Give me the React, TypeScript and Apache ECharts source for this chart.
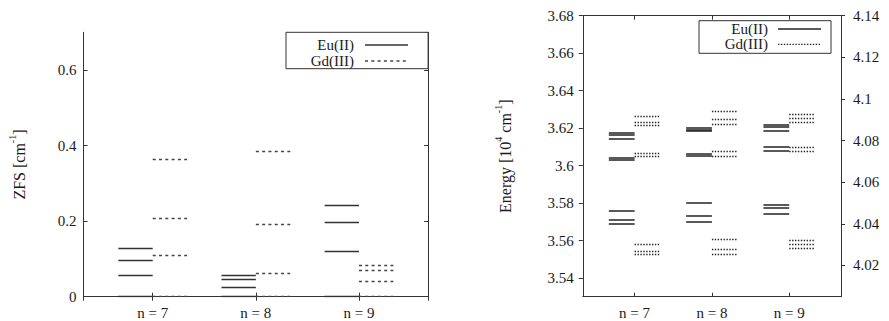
import React, { useEffect, useRef } from "react";
import * as echarts from "echarts";

// ---- data ----
const categories = [7, 8, 9];
const xLabels = ["n = 7", "n = 8", "n = 9"];
const seriesNames = ["Eu(II)", "Gd(III)"];

// ZFS levels [cm^-1] (left panel)
const zfsEu = [
  [0, 0.057, 0.096, 0.128],
  [0, 0.026, 0.045, 0.0555],
  [0, 0.121, 0.198, 0.2415],
];
const zfsGd = [
  [0, 0.111, 0.207, 0.365],
  [0, 0.0634, 0.192, 0.385],
  [0, 0.042, 0.0705, 0.0837],
];

// Energy levels [10^4 cm^-1] (right panel); Eu on left axis, Gd on right axis
const energyEu = [
  [3.5689, 3.5712, 3.576, 3.6031, 3.6041, 3.6142, 3.6163, 3.6174],
  [3.5702, 3.5732, 3.5801, 3.605, 3.6061, 3.6185, 3.6193, 3.6201],
  [3.5743, 3.5773, 3.5792, 3.6078, 3.6103, 3.6188, 3.6206, 3.622],
];
const energyGd = [
  [4.0254, 4.027, 4.0302, 4.0723, 4.0739, 4.0873, 4.0887, 4.0916],
  [4.0253, 4.0278, 4.0325, 4.0726, 4.0747, 4.0877, 4.0902, 4.0939],
  [4.0284, 4.0304, 4.032, 4.0749, 4.0767, 4.089, 4.0908, 4.0927],
];

const xRange = [6.33, 9.67];
const zfsRange = [0, 0.7];
const energyEuRange = [3.53, 3.68];
const energyGdRange = [4.005, 4.14];
const levelWidth = 1 / 3;

const FONT = "Liberation Serif";
const INK = "#1a1a1a";

const labRich = { a: { fontFamily: FONT, fontSize: 15, color: INK } };

function fmt(v: number) {
  return `{a|${parseFloat(Number(v).toFixed(3))}}`;
}

function levels(vals: number[][], side: "left" | "right") {
  const out: any[] = [];
  vals.forEach((arr, i) => {
    const n = categories[i];
    const x0 = side === "left" ? n - levelWidth : n;
    const x1 = side === "left" ? n : n + levelWidth;
    arr.forEach((v) => out.push({ coords: [[x0, v], [x1, v]] }));
  });
  return out;
}

const axisLine = { show: true, lineStyle: { color: "#333", width: 1 } };
const labelStyle = { color: INK, fontFamily: FONT, fontSize: 15, rich: labRich };
const titleRich = {
  t: { fontFamily: FONT, fontSize: 16, color: INK, lineHeight: 20, verticalAlign: "bottom" },
  s: { fontFamily: FONT, fontSize: 10, color: INK, lineHeight: 10, verticalAlign: "top" },
};

function xAxes(gridIndex: number) {
  const base = {
    type: "value",
    gridIndex,
    min: xRange[0],
    max: xRange[1],
    splitNumber: 3,
    splitLine: { show: false },
    axisLine,
  };
  return [
    {
      ...base,
      position: "bottom",
      axisTick: { show: true, inside: true, length: 4, lineStyle: { color: "#333" } },
      axisLabel: {
        ...labelStyle,
        margin: 9,
        showMinLabel: false,
        showMaxLabel: false,
        formatter: (v: number) => {
          const i = categories.findIndex((c) => Math.abs(c - v) < 1e-6);
          return i >= 0 ? `{a|${xLabels[i]}}` : "";
        },
      },
    },
    {
      ...base,
      position: "top",
      axisTick: { show: true, inside: true, length: 4, lineStyle: { color: "#333" } },
      axisLabel: { show: false },
    },
  ];
}

function legendText(x: number, y: number, text: string) {
  return {
    type: "text",
    x,
    y,
    z: 11,
    style: {
      text: `{a|${text}}`,
      rich: labRich,
      align: "right",
      verticalAlign: "middle",
      fontFamily: FONT,
      fontSize: 15,
      fill: INK,
    },
  };
}

export default function App() {
  const ref = useRef<HTMLDivElement>(null);
  useEffect(() => {
    if (!ref.current) return;
    const chart = echarts.init(ref.current, null, { renderer: "svg" });
    const option: any = {
      animation: false,
      backgroundColor: "#fff",
      textStyle: { fontFamily: FONT },
      grid: [
        { left: 83.6, top: 32.3, width: 344.5, height: 264.4 },
        { left: 582.8, top: 15.7, width: 258.2, height: 281 },
      ],
      xAxis: [...xAxes(0), ...xAxes(1)],
      yAxis: [
        {
          type: "value",
          gridIndex: 0,
          position: "left",
          min: zfsRange[0],
          max: zfsRange[1],
          interval: 0.2,
          splitLine: { show: false },
          axisLine,
          axisTick: { show: true, inside: true, length: 4, lineStyle: { color: "#333" } },
          axisLabel: { ...labelStyle, margin: 7, showMaxLabel: false, formatter: fmt },
          name: "{t|ZFS [cm}{s|-1}{t|]}",
          nameLocation: "middle",
          nameRotate: 90,
          nameGap: 56,
          nameTextStyle: { fontFamily: FONT, rich: titleRich },
        },
        {
          type: "value",
          gridIndex: 0,
          position: "right",
          min: zfsRange[0],
          max: zfsRange[1],
          interval: 0.2,
          splitLine: { show: false },
          axisLine,
          axisTick: { show: true, inside: true, length: 4, lineStyle: { color: "#333" } },
          axisLabel: { show: false },
        },
        {
          type: "value",
          gridIndex: 1,
          position: "left",
          min: energyEuRange[0],
          max: energyEuRange[1],
          splitNumber: 7,
          splitLine: { show: false },
          axisLine,
          axisTick: { show: true, inside: false, length: 4, lineStyle: { color: "#333" } },
          axisLabel: { ...labelStyle, margin: 9, showMinLabel: false, formatter: fmt },
          name: "{t|Energy [10}{s|4}{t| cm}{s|-1}{t|]}",
          nameLocation: "middle",
          nameRotate: 90,
          nameGap: 69,
          nameTextStyle: { fontFamily: FONT, rich: titleRich },
        },
        {
          type: "value",
          gridIndex: 1,
          position: "right",
          min: energyGdRange[0],
          max: energyGdRange[1],
          splitNumber: 7,
          splitLine: { show: false },
          axisLine,
          axisTick: { show: true, inside: false, length: 4, lineStyle: { color: "#333" } },
          axisLabel: { ...labelStyle, margin: 12, showMinLabel: false, formatter: fmt },
        },
      ],
      series: [
        {
          name: seriesNames[0],
          type: "lines",
          coordinateSystem: "cartesian2d",
          xAxisIndex: 0,
          yAxisIndex: 0,
          silent: true,
          lineStyle: { color: "#333", width: 1.4, opacity: 1, type: "solid" },
          data: levels(zfsEu, "left"),
        },
        {
          name: seriesNames[1],
          type: "lines",
          coordinateSystem: "cartesian2d",
          xAxisIndex: 0,
          yAxisIndex: 0,
          silent: true,
          lineStyle: { color: "#444", width: 1.3, opacity: 1, type: [3, 3.3] },
          data: levels(zfsGd, "right"),
        },
        {
          name: seriesNames[0],
          type: "lines",
          coordinateSystem: "cartesian2d",
          xAxisIndex: 2,
          yAxisIndex: 2,
          silent: true,
          lineStyle: { color: "#222", width: 1.5, opacity: 1, type: "solid" },
          data: levels(energyEu, "left"),
        },
        {
          name: seriesNames[1],
          type: "lines",
          coordinateSystem: "cartesian2d",
          xAxisIndex: 2,
          yAxisIndex: 3,
          silent: true,
          lineStyle: { color: "#222", width: 1.3, opacity: 1, type: [1.4, 1.5] },
          data: levels(energyGd, "right"),
        },
      ],
      graphic: [
        // left legend
        { type: "rect", shape: { x: 286, y: 32.3, width: 142.1, height: 36.4 }, style: { fill: "#fff", stroke: "#333", lineWidth: 1 }, z: 10 },
        legendText(354, 45, seriesNames[0]),
        { type: "line", shape: { x1: 365, y1: 45, x2: 408, y2: 45 }, style: { stroke: "#333", lineWidth: 1.3 }, z: 11 },
        legendText(354, 61, seriesNames[1]),
        { type: "line", shape: { x1: 365, y1: 61, x2: 408, y2: 61 }, style: { stroke: "#444", lineWidth: 1.3, lineDash: [3, 3.3] }, z: 11 },
        // right legend
        { type: "rect", shape: { x: 699, y: 20.7, width: 132, height: 32.6 }, style: { fill: "#fff", stroke: "#333", lineWidth: 1 }, z: 10 },
        legendText(768, 29, seriesNames[0]),
        { type: "line", shape: { x1: 778, y1: 29, x2: 821, y2: 29 }, style: { stroke: "#222", lineWidth: 1.3 }, z: 11 },
        legendText(768, 44.3, seriesNames[1]),
        { type: "line", shape: { x1: 778, y1: 44.3, x2: 821, y2: 44.3 }, style: { stroke: "#222", lineWidth: 1.2, lineDash: [1.4, 1.5] }, z: 11 },
      ],
    };
    chart.setOption(option);
    return () => chart.dispose();
  }, []);
  return (
    <div
      ref={ref}
      style={{ position: "absolute", left: 0, top: 0, width: 889, height: 321, background: "#fff" }}
    />
  );
}
